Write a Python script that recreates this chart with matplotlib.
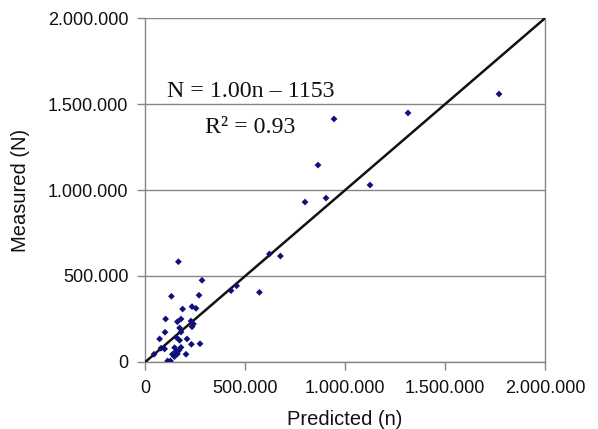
import matplotlib
matplotlib.use("Agg")
import matplotlib.pyplot as plt
from matplotlib.ticker import FuncFormatter, MultipleLocator
import numpy as np

# Predicted vs measured forces (N)
predicted = [167000, 622000, 677000, 285000, 458000, 430000, 572000, 132000,
             270000, 235000, 255000, 188000, 103000, 162000, 180000, 230000,
             242000, 235000, 173000, 100000, 180000, 73000, 157000, 173000,
             210000, 232000, 275000, 80000, 98000, 148000, 180000, 155000,
             170000, 137000, 162000, 205000, 45000, 113000, 127000, 147000,
             800000, 905000, 865000, 945000, 1125000, 1315000, 1770000]
measured = [583000, 628000, 616000, 475000, 443000, 415000, 405000, 382000,
            388000, 322000, 312000, 308000, 250000, 234000, 250000, 238000,
            221000, 205000, 198000, 173000, 174000, 134000, 143000, 126000,
            134000, 103000, 106000, 80000, 76000, 83000, 85000, 62000,
            68000, 45000, 47000, 45000, 45000, 6000, 6000, 31000,
            930000, 953000, 1145000, 1413000, 1029000, 1448000, 1558000]

# Regression line: N = 1.00 n - 1153
slope = 1.00
intercept = -1153
axis_max = 2000000

plt.rcParams['font.family'] = ['Liberation Sans', 'DejaVu Sans']

fig = plt.figure(figsize=(5.98, 4.29), dpi=100)
ax = fig.add_axes([0.2425, 0.1562, 0.6689, 0.8018])

ax.set_xlim(0, axis_max)
ax.set_ylim(0, axis_max)

grid_col = '#868686'
ax.yaxis.set_major_locator(MultipleLocator(500000))
ax.xaxis.set_major_locator(MultipleLocator(500000))
ax.grid(axis='y', color=grid_col, linewidth=1.0)
ax.set_axisbelow(True)
for side in ['left', 'bottom', 'right']:
    ax.spines[side].set_color(grid_col)
    ax.spines[side].set_linewidth(1.0)
ax.spines['top'].set_visible(False)

fmt = FuncFormatter(lambda v, p: f"{int(round(v)):,}".replace(",", "."))
ax.xaxis.set_major_formatter(fmt)
ax.yaxis.set_major_formatter(fmt)
ax.tick_params(axis='both', direction='out', length=6, width=1.0,
               color=grid_col, labelsize=13, labelcolor='#111111')
ax.tick_params(axis='y', pad=6)
ax.tick_params(axis='x', pad=7)

ax.set_xlabel('Predicted (n)', fontsize=14.5, color='#111111', labelpad=9)
ax.set_ylabel('Measured (N)', fontsize=14.5, color='#111111', labelpad=13)

xs = np.array([0, axis_max])
ax.plot(xs, slope * xs + intercept, color='#111111', linewidth=1.8, zorder=3)

ax.scatter(predicted, measured, marker='D', s=12, color='#10107a',
           edgecolors='none', zorder=4)

ax.text(0.055, 0.770, 'N = 1.00n \u2013 1153', transform=ax.transAxes,
        family=['Liberation Serif', 'DejaVu Serif'], fontsize=17.2, ha='left',
        va='baseline', color='#111111')
ax.text(0.15, 0.666, 'R\u00b2 = 0.93', transform=ax.transAxes,
        family=['Liberation Serif', 'DejaVu Serif'], fontsize=17.2, ha='left',
        va='baseline', color='#111111')

fig.savefig('out.png', dpi=100)
